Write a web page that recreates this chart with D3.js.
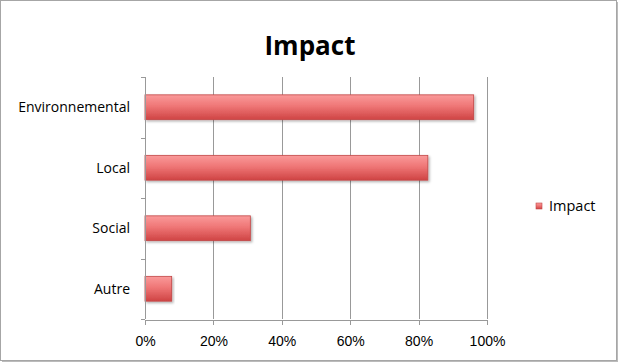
<!DOCTYPE html>
<html>
<head>
<meta charset="utf-8" />
<script src="https://cdn.jsdelivr.net/npm/d3@7"></script>
<style>
  body { margin: 0; background: #fff; }
  svg { font-family: "Open Sans", "Noto Sans", sans-serif; }
  .axis path, .axis line { stroke: #999; shape-rendering: crispEdges; }
  .axis text { font-size: 14px; fill: #000; }
  .ylab { font-size: 14.5px; fill: #000; }
</style>
</head>
<body>
<svg id="chart"></svg>
<script>
var categories = ['Environnemental', 'Local', 'Social', 'Autre'];
var values = [0.961, 0.827, 0.308, 0.078];
var xTicks = [0, 0.2, 0.4, 0.6, 0.8, 1.0];
var seriesName = 'Impact';

var W = 620, H = 364;
var plotLeft = 145, plotRight = 487, plotTop = 77, plotBottom = 319;

var svg = d3.select('#chart').attr('width', W).attr('height', H);

var defs = svg.append('defs');
var grad = defs.append('linearGradient').attr('id', 'barGrad')
  .attr('x1', 0).attr('y1', 0).attr('x2', 0).attr('y2', 1);
grad.append('stop').attr('offset', '0%').attr('stop-color', '#fa9a9a');
grad.append('stop').attr('offset', '45%').attr('stop-color', '#ef7676');
grad.append('stop').attr('offset', '100%').attr('stop-color', '#cf4444');

var shadow = defs.append('filter').attr('id', 'shadow')
  .attr('x', '-5%').attr('y', '-20%').attr('width', '115%').attr('height', '150%');
shadow.append('feDropShadow').attr('dx', 1.5).attr('dy', 1.5)
  .attr('stdDeviation', 1).attr('flood-color', '#000').attr('flood-opacity', 0.3);

// chart frame with a little shadow at right and bottom
svg.append('rect').attr('x', 2).attr('y', 2).attr('width', W - 4).attr('height', H - 4)
  .attr('fill', '#bbb');
svg.append('rect').attr('x', 0.5).attr('y', 0.5).attr('width', W - 4).attr('height', H - 4)
  .attr('fill', '#fff').attr('stroke', '#a6a6a6');

var x = d3.scaleLinear().domain([0, 1]).range([plotLeft, plotRight]);
var y = d3.scaleBand().domain(categories).range([plotTop, plotBottom]).paddingInner(0.59).paddingOuter(0.295);

// vertical grid lines
svg.append('g').selectAll('line').data(xTicks.slice(1)).join('line')
  .attr('x1', function(d) { return Math.round(x(d)) + 0.5; })
  .attr('x2', function(d) { return Math.round(x(d)) + 0.5; })
  .attr('y1', plotTop).attr('y2', plotBottom)
  .attr('stroke', '#999').attr('shape-rendering', 'crispEdges');

// bars
svg.append('g').selectAll('rect').data(values).join('rect')
  .attr('x', x(0))
  .attr('y', function(d, i) { return y(categories[i]); })
  .attr('width', function(d) { return x(d) - x(0); })
  .attr('height', y.bandwidth())
  .attr('fill', 'url(#barGrad)')
  .attr('stroke', '#c24646').attr('stroke-width', 0.8)
  .attr('filter', 'url(#shadow)');

// x axis
var xAxis = d3.axisBottom(x).tickValues(xTicks).tickFormat(d3.format('.0%'))
  .tickSizeInner(5).tickSizeOuter(0).tickPadding(12);
svg.append('g').attr('class', 'axis').attr('transform', 'translate(0,' + (plotBottom + 0.5) + ')')
  .call(xAxis);

// y axis: ticks at band boundaries, labels at band centres
var yAxisG = svg.append('g').attr('class', 'axis');
yAxisG.append('line').attr('x1', plotLeft + 0.5).attr('x2', plotLeft + 0.5)
  .attr('y1', plotTop).attr('y2', plotBottom);
var bounds = d3.range(categories.length + 1).map(function(i) {
  return plotTop + i * (plotBottom - plotTop) / categories.length;
});
yAxisG.selectAll('line.tick').data(bounds).join('line').attr('class', 'tick')
  .attr('x1', plotLeft - 4).attr('x2', plotLeft)
  .attr('y1', function(d) { return Math.round(d) + 0.5; })
  .attr('y2', function(d) { return Math.round(d) + 0.5; });
yAxisG.selectAll('text').data(categories).join('text')
  .attr('class', 'ylab')
  .attr('x', plotLeft - 15)
  .attr('y', function(d) { return y(d) + y.bandwidth() / 2; })
  .attr('dy', '0.35em')
  .attr('text-anchor', 'end')
  .text(function(d) { return d; });

// title
svg.append('text').attr('x', 310).attr('y', 55).attr('text-anchor', 'middle')
  .style('font-size', '26px').style('font-weight', 'bold').attr('fill', '#000')
  .text(seriesName);

// legend
var legend = svg.append('g').attr('transform', 'translate(536,203)');
legend.append('rect').attr('width', 6).attr('height', 6)
  .attr('fill', 'url(#barGrad)').attr('stroke', '#c24646').attr('stroke-width', 0.6);
legend.append('text').attr('x', 13).attr('y', 3).attr('dy', '0.35em')
  .style('font-size', '14.5px').attr('fill', '#000').text(seriesName);
</script>
</body>
</html>
